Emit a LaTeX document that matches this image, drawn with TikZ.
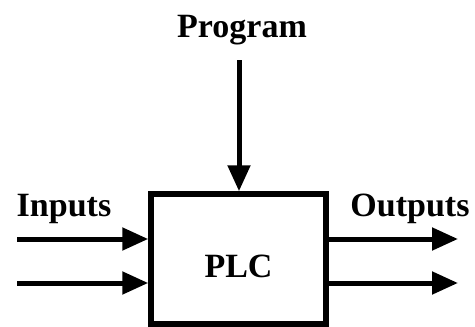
\documentclass[tikz,border=0pt]{standalone}
\usepackage{fontspec}
\setmainfont{Liberation Serif}
\usetikzlibrary{arrows.meta}

\tikzset{
	lbl/.style={font=\fontsize{34}{40}\selectfont\bfseries},
	flow/.style={line width=5pt, -{Triangle[length=26pt, width=22pt]}},
}

\begin{document}
\begin{tikzpicture}[x=1pt, y=-1pt]
			\useasboundingbox (0, 0) rectangle (475, 327);
			% PLC block
			\node[draw, line width=5.5pt, minimum width=175pt, minimum height=130pt, inner sep=0pt, text height=37pt, text depth=0pt, lbl] (plc) at (238.5, 259) {PLC};
			% Program input from above
			\node[lbl] (prog) at (242, 30) {Program};
			\coordinate (progS) at (239, 60);
			\draw[flow] (progS) -- (plc.north -| progS);
			% Inputs
			\node[lbl] (inp) at (64, 209) {Inputs};
			\coordinate (in1) at (17, 239);
			\coordinate (in2) at (17, 283);
			\draw[flow] (in1) -- (plc.west |- in1);
			\draw[flow] (in2) -- (plc.west |- in2);
			% Outputs
			\node[lbl] (outp) at (410, 209) {Outputs};
			\coordinate (out1) at (458, 239);
			\coordinate (out2) at (458, 283);
			\draw[flow] (plc.east |- out1) -- (out1);
			\draw[flow] (plc.east |- out2) -- (out2);
		\end{tikzpicture}
\end{document}
